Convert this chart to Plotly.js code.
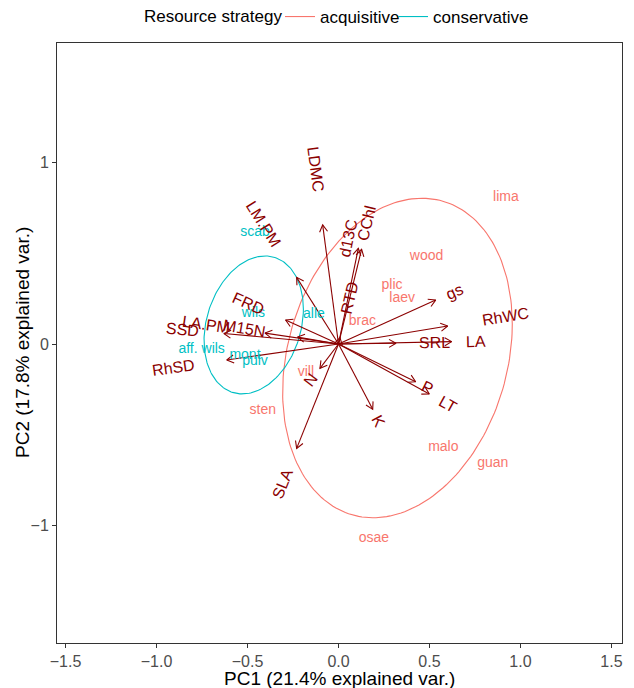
<!DOCTYPE html>
<html><head><meta charset="utf-8">
<script src="https://cdn.plot.ly/plotly-3.0.1.min.js"></script>
<style>html,body{margin:0;padding:0;background:#fff}</style>
</head><body><div id="chart" style="width:634px;height:688px"></div>
<script>
// ---- observation labels (PC scores) ----
const acqNames = ['lima','wood','plic','laev','brac','vill','sten','malo','guan','osae'];
const acqPC1 = [0.92, 0.484, 0.294, 0.350, 0.131, -0.179, -0.416, 0.576, 0.848, 0.195];
const acqPC2 = [0.808, 0.481, 0.320, 0.248, 0.123, -0.158, -0.369, -0.570, -0.657, -1.071];
const conNames = ['scab','wils','alle','aff. wils','mont','pulv'];
const conPC1 = [-0.459, -0.468, -0.135, -0.752, -0.514, -0.459];
const conPC2 = [0.615, 0.169, 0.165, -0.029, -0.064, -0.094];

// ---- variable loadings (arrow tips) ----
const varNames = ['LDMC','LM.PM','d13C','CChl','RTD','FRD','LA.PM','SSD','M15N','RhSD','gs','RhWC','LA','SRL','P','LT','K','N','SLA'];
const varPC1 = [-0.087, -0.230, 0.109, 0.127, 0.008, -0.291, -0.404, -0.630, -0.225, -0.614, 0.534, 0.600, 0.622, 0.316, 0.424, 0.499, 0.188, -0.102, -0.230];
const varPC2 = [0.656, 0.367, 0.527, 0.522, 0.035, 0.132, 0.060, 0.058, 0.038, -0.088, 0.242, 0.099, 0.013, 0.004, -0.208, -0.275, -0.360, -0.134, -0.575];
const varLabPC1 = [null, null, 0.055, 0.154, null, null, null, null, null, null, null, null, null, null, null, null, null, null, null];
const varLabPC2 = [null, null, 0.579, 0.664, null, null, null, null, null, null, null, null, null, null, null, null, null, null, null];

// ---- group ellipses: centre, sd along PC1/PC2, covariance ----
const groups = ['acquisitive','conservative'];
const ellCX = [0.324, -0.466];
const ellCY = [-0.077, 0.105];
const ellSX = [0.631, 0.273];
const ellSY = [0.880, 0.380];
const ellCov = [0.118, 0.0236];

const colAcq = '#F8766D', colCon = '#00BFC4', colVar = '#8B0000';
const pxPerUnit = 182;
const FONT = 'Liberation Sans, Arial, sans-serif';

function ellipsePath(i) {
  const xs = [], ys = [];
  const a = ellSX[i], b = ellCov[i] / a, c = Math.sqrt(ellSY[i]*ellSY[i] - b*b);
  for (let k = 0; k <= 200; k++) {
    const t = 2*Math.PI*k/200, u = Math.cos(t), v = Math.sin(t);
    xs.push(ellCX[i] + a*u);
    ys.push(ellCY[i] + b*u + c*v);
  }
  return {xs, ys};
}

// arrows (shaft + open head)
const ax = [], ay = [];
const headLen = 8 / pxPerUnit, headAng = 30*Math.PI/180;
for (let i = 0; i < varNames.length; i++) {
  const x = varPC1[i], y = varPC2[i];
  ax.push(0, x, null); ay.push(0, y, null);
  const th = Math.atan2(y, x);
  ax.push(x - headLen*Math.cos(th - headAng), x, x - headLen*Math.cos(th + headAng), null);
  ay.push(y - headLen*Math.sin(th - headAng), y, y - headLen*Math.sin(th + headAng), null);
}

// label placement like ggbiplot (text starts beyond the tip)
const cv = document.createElement('canvas').getContext('2d');
cv.font = '16px "Liberation Sans"';
const annotations = varNames.map((name, i) => {
  const x = varPC1[i], y = varPC2[i];
  const r = Math.hypot(x, y);
  const w = cv.measureText(name).width / pxPerUnit;
  const off = 1.25 * w;
  const ang = Math.atan(y / x) * 180 / Math.PI;
  const lx = varLabPC1[i] !== null ? varLabPC1[i] : x + x/r*off;
  const ly = varLabPC2[i] !== null ? varLabPC2[i] : y + y/r*off;
  return {
    x: lx, y: ly, xref: 'x', yref: 'y',
    text: name, showarrow: false, textangle: -ang,
    xanchor: 'center', yanchor: 'middle',
    font: {family: FONT, size: 16, color: colVar}
  };
});
// axis titles and legend title
annotations.push({
  text: 'PC1 (21.4% explained var.)', xref: 'paper', yref: 'paper', x: 0.5, y: -35/600,
  xanchor: 'center', yanchor: 'middle', showarrow: false, font: {family: FONT, size: 19, color: '#000'}
});
annotations.push({
  text: 'PC2 (17.8% explained var.)', xref: 'paper', yref: 'paper', x: -35/565, y: 0.5, textangle: -90,
  xanchor: 'center', yanchor: 'middle', showarrow: false, font: {family: FONT, size: 19, color: '#000'}
});
annotations.push({
  text: 'Resource strategy', xref: 'paper', yref: 'paper', x: (213 - 57)/565, y: 1 + 26/600,
  xanchor: 'center', yanchor: 'middle', showarrow: false, font: {family: FONT, size: 17, color: '#000'}
});

const e0 = ellipsePath(0), e1 = ellipsePath(1);
const data = [
  {x: e0.xs, y: e0.ys, mode: 'lines', line: {color: colAcq, width: 1.1}, name: groups[0], legend: 'legend', hoverinfo: 'skip'},
  {x: e1.xs, y: e1.ys, mode: 'lines', line: {color: colCon, width: 1.1}, name: groups[1], legend: 'legend2', hoverinfo: 'skip'},
  {x: ax, y: ay, mode: 'lines', line: {color: colVar, width: 1.1}, showlegend: false, hoverinfo: 'skip'},
  {x: acqPC1, y: acqPC2, text: acqNames, mode: 'text', textposition: 'middle center',
   textfont: {family: FONT, size: 14, color: colAcq}, showlegend: false},
  {x: conPC1, y: conPC2, text: conNames, mode: 'text', textposition: 'middle center',
   textfont: {family: FONT, size: 14, color: colCon}, showlegend: false}
];

const axisCommon = {
  showgrid: false, zeroline: false, showline: true, mirror: true, automargin: false,
  linecolor: '#333333', linewidth: 1, ticks: 'outside', ticklen: 4, tickcolor: '#333333', tickwidth: 1,
  tickfont: {family: FONT, size: 16, color: '#4D4D4D'}
};
const legendCommon = {
  orientation: 'h', xanchor: 'left', xref: 'paper',
  y: 1 - 17/688, yanchor: 'middle', yref: 'container',
  font: {size: 17}, itemwidth: 30, bgcolor: 'rgba(0,0,0,0)'
};
const layout = {
  width: 634, height: 688,
  margin: {l: 57, r: 12, t: 43, b: 45},
  paper_bgcolor: '#fff', plot_bgcolor: '#fff',
  font: {family: FONT, color: '#000'},
  xaxis: Object.assign({}, axisCommon, {
    range: [-1.547, 1.558], tickvals: [-1.5,-1,-0.5,0,0.5,1,1.5], tickformat: '.1f'
  }),
  yaxis: Object.assign({}, axisCommon, {
    range: [-1.647, 1.658], tickvals: [-1, 0, 1]
  }),
  legend: Object.assign({}, legendCommon, {x: (280 - 57)/565}),
  legend2: Object.assign({}, legendCommon, {x: (393 - 57)/565}),
  annotations: annotations,
  showlegend: true
};
Plotly.newPlot('chart', data, layout, {displayModeBar: false, staticPlot: true});
</script>
</body></html>
